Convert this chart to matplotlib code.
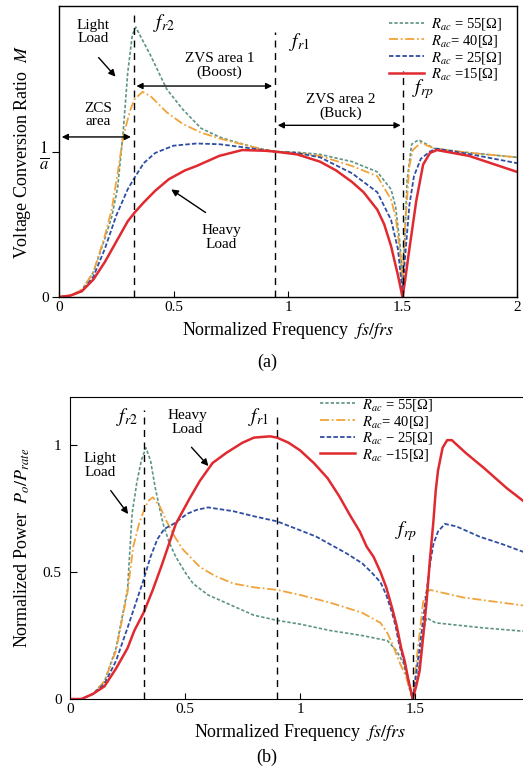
import matplotlib
matplotlib.use('Agg')
import matplotlib.pyplot as plt

plt.rcParams['font.family'] = ['Liberation Serif', 'DejaVu Serif']
plt.rcParams['mathtext.fontset'] = 'stix'

# ---------------- data: panel (a) voltage conversion ratio ----------------
xa55 = [0, 0.05, 0.1, 0.15, 0.2, 0.23, 0.256, 0.28, 0.30, 0.32, 0.335, 0.36, 0.40, 0.47, 0.54, 0.62,
        0.70, 0.76, 0.85, 0.94, 1.04, 1.14, 1.28, 1.39, 1.45, 1.47, 1.49, 1.50, 1.51, 1.52, 1.54, 1.57,
        1.64, 1.8, 2.0]
ma55 = [0, 0.01, 0.05, 0.17, 0.40, 0.55, 0.75, 1.13, 1.54, 1.80, 1.855, 1.78, 1.66, 1.43, 1.29, 1.16,
        1.10, 1.07, 1.03, 1.0, 0.995, 0.98, 0.93, 0.86, 0.74, 0.62, 0.35, 0.10, 0.40, 0.80, 1.05, 1.08,
        1.02, 0.99, 0.96]

xa40 = [0, 0.05, 0.1, 0.15, 0.2, 0.23, 0.256, 0.28, 0.31, 0.33, 0.365, 0.40, 0.47, 0.54, 0.62, 0.70,
        0.76, 0.85, 0.94, 1.04, 1.14, 1.28, 1.39, 1.45, 1.47, 1.49, 1.50, 1.51, 1.53, 1.545, 1.58, 1.64,
        1.8, 2.0]
ma40 = [0, 0.01, 0.05, 0.17, 0.42, 0.60, 0.85, 1.10, 1.28, 1.36, 1.41, 1.38, 1.27, 1.19, 1.13, 1.09,
        1.065, 1.03, 1.0, 0.99, 0.97, 0.90, 0.83, 0.67, 0.55, 0.30, 0.10, 0.45, 0.90, 1.01, 1.06, 1.02,
        0.99, 0.96]

xa25 = [0, 0.05, 0.1, 0.15, 0.2, 0.25, 0.30, 0.33, 0.37, 0.42, 0.5, 0.6, 0.7, 0.8, 0.94, 1.04, 1.14,
        1.28, 1.39, 1.45, 1.48, 1.50, 1.51, 1.53, 1.55, 1.58, 1.62, 1.65, 1.8, 2.0]
ma25 = [0, 0.01, 0.04, 0.14, 0.33, 0.56, 0.74, 0.82, 0.92, 0.99, 1.04, 1.055, 1.05, 1.03, 1.0, 0.99, 0.96,
        0.85, 0.72, 0.53, 0.33, 0.03, 0.25, 0.63, 0.83, 0.95, 1.0, 1.02, 0.98, 0.92]

xa15 = [0, 0.05, 0.1, 0.15, 0.2, 0.25, 0.3, 0.33, 0.37, 0.42, 0.48, 0.55, 0.6, 0.7, 0.8, 0.9, 0.94,
        1.04, 1.14, 1.21, 1.28, 1.33, 1.39, 1.42, 1.45, 1.48, 1.50, 1.51, 1.53, 1.56, 1.59, 1.62, 1.65,
        1.79, 2.0]
ma15 = [0, 0.01, 0.04, 0.12, 0.24, 0.38, 0.52, 0.58, 0.65, 0.73, 0.81, 0.87, 0.90, 0.97, 1.01, 1.005, 1.0,
        0.98, 0.93, 0.87, 0.79, 0.72, 0.60, 0.50, 0.35, 0.15, 0.0, 0.10, 0.33, 0.66, 0.91, 0.99, 1.01,
        0.97, 0.86]

# ---------------- data: panel (b) normalized power ----------------
xb55 = [0, 0.05, 0.1, 0.15, 0.2, 0.25, 0.27, 0.29, 0.31, 0.33, 0.35, 0.37, 0.39, 0.405, 0.43, 0.46, 0.5,
        0.535, 0.6, 0.7, 0.8, 0.9, 1.0, 1.13, 1.27, 1.38, 1.42, 1.45, 1.47, 1.49, 1.51, 1.535, 1.55, 1.59,
        1.8, 2.0]
pb55 = [0, 0.0, 0.02, 0.07, 0.20, 0.43, 0.73, 0.85, 0.94, 0.99, 0.94, 0.835, 0.75, 0.69, 0.62, 0.56, 0.50,
        0.455, 0.41, 0.37, 0.33, 0.31, 0.295, 0.27, 0.25, 0.23, 0.19, 0.14, 0.06, 0.0, 0.08, 0.26, 0.32, 0.30,
        0.28, 0.265]

xb40 = [0, 0.05, 0.1, 0.15, 0.2, 0.25, 0.275, 0.30, 0.32, 0.34, 0.36, 0.39, 0.42, 0.455, 0.49, 0.565,
        0.63, 0.71, 0.8, 0.9, 1.0, 1.13, 1.2, 1.27, 1.35, 1.38, 1.40, 1.43, 1.46, 1.49, 1.51, 1.535, 1.55,
        1.565, 1.71, 2.0]
pb40 = [0, 0.0, 0.02, 0.07, 0.19, 0.42, 0.60, 0.69, 0.74, 0.78, 0.795, 0.76, 0.70, 0.64, 0.59, 0.52,
        0.485, 0.455, 0.44, 0.43, 0.41, 0.38, 0.36, 0.34, 0.30, 0.26, 0.22, 0.15, 0.09, 0.0, 0.18, 0.38, 0.42,
        0.43, 0.40, 0.365]

xb25 = [0, 0.05, 0.1, 0.15, 0.2, 0.25, 0.32, 0.35, 0.38, 0.41, 0.45, 0.51, 0.55, 0.60, 0.71, 0.8, 0.90,
        1.0, 1.07, 1.13, 1.2, 1.27, 1.31, 1.35, 1.375, 1.40, 1.415, 1.43, 1.46, 1.49, 1.52, 1.55, 1.565,
        1.58, 1.6, 1.63, 1.68, 1.78, 1.88, 2.0]
pb25 = [0, 0.0, 0.02, 0.06, 0.15, 0.28, 0.47, 0.56, 0.63, 0.67, 0.69, 0.73, 0.745, 0.755, 0.74, 0.72, 0.70,
        0.665, 0.64, 0.61, 0.575, 0.535, 0.50, 0.46, 0.41, 0.34, 0.29, 0.22, 0.12, 0.0, 0.20, 0.42, 0.53,
        0.61, 0.66, 0.69, 0.68, 0.64, 0.61, 0.57]

xb15 = [0, 0.05, 0.1, 0.15, 0.2, 0.25, 0.28, 0.32, 0.36, 0.40, 0.46, 0.52, 0.565, 0.62, 0.68, 0.75, 0.80,
        0.87, 0.90, 0.95, 1.0, 1.06, 1.12, 1.17, 1.22, 1.26, 1.29, 1.32, 1.35, 1.375, 1.40, 1.42, 1.44,
        1.455, 1.47, 1.49, 1.505, 1.52, 1.535, 1.55, 1.565, 1.58, 1.59, 1.60, 1.62, 1.64, 1.66, 1.72, 1.80,
        1.9, 2.0]
pb15 = [0, 0.0, 0.02, 0.05, 0.12, 0.20, 0.27, 0.34, 0.43, 0.53, 0.69, 0.79, 0.86, 0.93, 0.97, 1.01, 1.03,
        1.035, 1.03, 1.01, 0.98, 0.93, 0.87, 0.80, 0.72, 0.66, 0.60, 0.56, 0.50, 0.44, 0.36, 0.29, 0.20,
        0.15, 0.08, 0.0, 0.05, 0.11, 0.24, 0.38, 0.55, 0.70, 0.82, 0.90, 0.99, 1.02, 1.02, 0.97, 0.91,
        0.83, 0.76]

labels_a = [r'$R_{ac}$ = 55[Ω]', r'$R_{ac}$= 40[Ω]', r'$R_{ac}$ = 25[Ω]', r'$R_{ac}$ =15[Ω]']
labels_b = [r'$R_{ac}$ = 55[Ω]', r'$R_{ac}$= 40[Ω]', r'$R_{ac}$ − 25[Ω]', r'$R_{ac}$ −15[Ω]']
xticks = [0, 0.5, 1, 1.5, 2]
xticklabels_a = ['0', '0.5', '1', '1.5', '2']
xticklabels_b = ['0', '0.5', '1', '1.5', '']

# ---------------- styles ----------------
c55, c40, c25, c15 = '#5d9484', '#f2a33a', '#2f4ea3', '#e02a30'
st = [dict(color=c55, lw=1.2, ls=(0, (2.0, 1.2))),
      dict(color=c40, lw=1.3, ls=(0, (5, 1.5, 1, 1.5))),
      dict(color=c25, lw=1.3, ls=(0, (2.5, 1.2))),
      dict(color=c15, lw=1.8, ls='-')]

fig = plt.figure(figsize=(5.23, 7.72), dpi=100)
axa = fig.add_axes([59/523, 475/772, 458/523, 291/772])
axb = fig.add_axes([70/523, 73/772, 460/523, 302/772])

# ---------------- panel (a) ----------------
for (x, y), s, lab in zip([(xa55, ma55), (xa40, ma40), (xa25, ma25), (xa15, ma15)], st, labels_a):
    axa.plot(x, y, label=lab, **s)
axa.set_xlim(0, 2)
axa.set_ylim(0, 2.0)
axa.set_xticks(xticks)
axa.set_xticklabels(xticklabels_a)
axa.set_yticks([0, 1])
axa.set_yticklabels(['0', r'$\frac{1}{a}$'])
axa.tick_params(axis='x', direction='in', length=4, labelsize=11, pad=3)
axa.tick_params(axis='y', direction='out', length=5, labelsize=11, pad=2)
axa.get_yticklabels()[1].set_fontsize(17)
for sp in axa.spines.values():
    sp.set_linewidth(1.0)
axa.set_xlabel(r'Normalized Frequency  $fs/frs$', fontsize=13, labelpad=4)
axa.set_ylabel(r'Voltage Conversion Ratio  $M$', fontsize=13, labelpad=4)

for xv, ytop in [(0.326, 1.94), (0.943, 1.82), (1.504, 1.55)]:
    axa.plot([xv, xv], [0, ytop], color='black', lw=1.0, ls=(0, (5, 4)))

arr = dict(arrowstyle='<|-|>', color='black', lw=1.0, mutation_scale=9)
axa.annotate('', xy=(0.0, 1.10), xytext=(0.326, 1.10), arrowprops=arr)
axa.annotate('', xy=(0.326, 1.45), xytext=(0.943, 1.45), arrowprops=arr)
axa.annotate('', xy=(0.943, 1.18), xytext=(1.504, 1.18), arrowprops=arr)

tk = dict(fontsize=11, ha='center', va='center', linespacing=1.05)
axa.text(0.17, 1.25, 'ZCS\narea', **tk)
axa.text(0.70, 1.59, 'ZVS area 1\n(Boost)', **tk)
axa.text(1.23, 1.31, 'ZVS area 2\n(Buck)', **tk)
axa.text(0.15, 1.82, 'Light\nLoad', **tk)
axa.text(0.71, 0.41, 'Heavy\nLoad', **tk)
axa.annotate('', xy=(0.255, 1.50), xytext=(0.165, 1.66),
             arrowprops=dict(arrowstyle='-|>', color='black', lw=1.0, mutation_scale=10))
axa.annotate('', xy=(0.48, 0.75), xytext=(0.65, 0.57),
             arrowprops=dict(arrowstyle='-|>', color='black', lw=1.0, mutation_scale=10))
axa.text(0.46, 1.88, r'$f_{r2}$', fontsize=14, ha='center', va='center')
axa.text(1.05, 1.75, r'$f_{r1}$', fontsize=14, ha='center', va='center')
axa.text(1.59, 1.43, r'$f_{rp}$', fontsize=14, ha='center', va='center')

axa.legend(loc='upper right', bbox_to_anchor=(0.99, 1.0), frameon=False, fontsize=10.5,
           handlelength=2.4, handletextpad=0.5, labelspacing=0.05, borderaxespad=0.3)

fig.text(267/523, 1 - 362/772, '(a)', fontsize=13, ha='center', va='center')

# ---------------- panel (b) ----------------
for (x, y), s, lab in zip([(xb55, pb55), (xb40, pb40), (xb25, pb25), (xb15, pb15)], st, labels_b):
    axb.plot(x, y, label=lab, **s)
axb.set_xlim(0, 2)
axb.set_ylim(0, 1.19)
axb.set_xticks(xticks)
axb.set_xticklabels(xticklabels_b)
axb.set_yticks([0, 0.5, 1])
axb.set_yticklabels(['0', '0.5', '1'])
axb.tick_params(axis='x', direction='in', length=4, labelsize=11, pad=3)
axb.tick_params(axis='y', direction='in', length=5, labelsize=11, pad=6)
axb.spines['right'].set_visible(False)
axb.set_xlabel(r'Normalized Frequency  $fs/frs$', fontsize=13, labelpad=4)
axb.set_ylabel(r'Normalized Power  $P_o/P_{rate}$', fontsize=13, labelpad=8)

for xv, ytop in [(0.32, 1.14), (0.90, 1.11), (1.49, 0.57)]:
    axb.plot([xv, xv], [0, ytop], color='black', lw=1.0, ls=(0, (5, 4)))

axb.text(0.25, 1.11, r'$f_{r2}$', fontsize=14, ha='center', va='center')
axb.text(0.82, 1.11, r'$f_{r1}$', fontsize=14, ha='center', va='center')
axb.text(1.46, 0.66, r'$f_{rp}$', fontsize=14, ha='center', va='center')
axb.text(0.51, 1.09, 'Heavy\nLoad', **tk)
axb.text(0.13, 0.92, 'Light\nLoad', **tk)
axb.annotate('', xy=(0.61, 0.91), xytext=(0.52, 1.0),
             arrowprops=dict(arrowstyle='-|>', color='black', lw=1.0, mutation_scale=10))
axb.annotate('', xy=(0.26, 0.72), xytext=(0.17, 0.83),
             arrowprops=dict(arrowstyle='-|>', color='black', lw=1.0, mutation_scale=10))

axb.legend(loc='upper left', bbox_to_anchor=(0.53, 1.02), frameon=False, fontsize=10.5,
           handlelength=2.4, handletextpad=0.5, labelspacing=0.05, borderaxespad=0.0)

fig.text(267/523, 1 - 757/772, '(b)', fontsize=13, ha='center', va='center')

fig.savefig('out.png', dpi=100)
